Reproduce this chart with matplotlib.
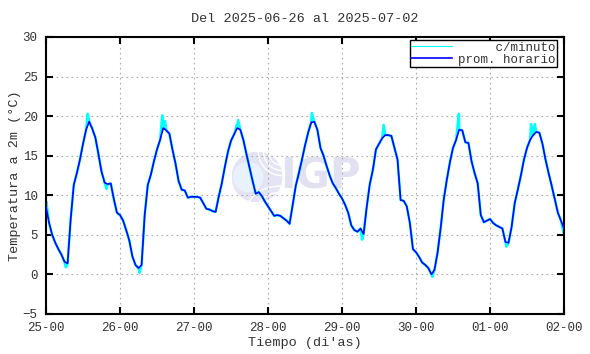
import numpy as np
import matplotlib.pyplot as plt
from matplotlib.patches import Circle, Arc

plt.rcParams['font.family'] = ['Liberation Mono', 'DejaVu Sans Mono']

TITLE = "Del 2025-06-26 al 2025-07-02"
DAY_LABELS = ["25-00", "26-00", "27-00", "28-00", "29-00", "30-00", "01-00", "02-00"]

# promedio horario, 24 valores por dia (°C)
day25 = [8.5, 6.5, 5.0, 4.0, 3.2, 2.5, 1.6, 1.4, 7.0, 11.3, 12.8, 14.5,
         16.5, 18.3, 19.3, 18.4, 17.3, 15.2, 13.0, 11.6, 11.4, 11.5, 9.5, 7.8]
day26 = [7.5, 6.8, 5.6, 4.3, 2.3, 1.2, 0.8, 1.2, 7.5, 11.3, 12.6, 14.3,
         15.8, 17.0, 18.5, 18.2, 17.8, 15.8, 14.0, 11.8, 10.7, 10.6, 9.7, 9.8]
day27 = [9.8, 9.8, 9.7, 9.0, 8.3, 8.2, 8.0, 7.9, 9.8, 11.5, 13.6, 15.5,
         16.9, 17.7, 18.5, 18.3, 17.0, 15.2, 13.5, 11.8, 10.2, 10.4, 9.9, 9.2]
day28 = [8.6, 8.0, 7.4, 7.5, 7.4, 7.1, 6.8, 6.4, 8.8, 11.2, 12.8, 14.5,
         16.3, 17.9, 19.2, 19.3, 18.3, 16.0, 15.0, 13.7, 12.5, 11.5, 10.9, 10.2]
day29 = [9.6, 8.8, 7.8, 6.2, 5.6, 5.4, 5.8, 5.1, 8.5, 11.4, 13.2, 15.8,
         16.5, 17.2, 17.6, 17.6, 17.5, 16.0, 14.5, 9.4, 9.3, 8.6, 6.5, 3.2]
day30 = [2.8, 2.2, 1.5, 1.2, 0.8, 0.0, 0.6, 2.8, 5.9, 9.5, 12.0, 14.2,
         16.0, 17.0, 18.3, 18.2, 16.7, 16.6, 14.3, 12.8, 11.5, 7.5, 6.6, 6.8]
day01 = [7.0, 6.5, 6.2, 6.0, 5.8, 4.1, 4.0, 6.0, 9.0, 10.7, 12.5, 14.5,
         16.0, 17.0, 17.6, 18.0, 17.9, 16.5, 14.5, 12.8, 11.2, 9.5, 7.8, 6.8]
last_value = [5.8]

# picos de la serie por minuto (horas desde el inicio, °C)
spike_hours = [0.1, 6.4, 13.5, 19.6, 30.3, 37.7, 38.6, 61.9, 62.3, 86.2,
               102.5, 109.5, 125.3, 133.9, 149.3, 157.3, 158.5, 167.8]
spike_values = [9.2, 0.9, 20.3, 10.8, 0.2, 20.1, 19.4, 18.9, 19.5, 20.4,
                4.4, 18.9, -0.3, 20.3, 3.5, 19.0, 19.0, 5.3]

hourly = np.array(day25 + day26 + day27 + day28 + day29 + day30 + day01 + last_value)
hours = np.arange(len(hourly))

minute_hours = np.concatenate([hours, spike_hours])
minute_values = np.concatenate([hourly, spike_values])
order = np.argsort(minute_hours, kind="stable")
minute_hours = minute_hours[order]
minute_values = minute_values[order]

fig = plt.figure(figsize=(5.9, 3.54), dpi=100)

# marca de agua IGP (detras del grafico)
logo = fig.add_axes([0.3925, 0.428, 0.0864, 0.144])
logo.set_aspect("equal")
logo.set_xlim(-1, 1)
logo.set_ylim(-1, 1)
logo.axis("off")
logo.add_patch(Circle((0, 0), 1, facecolor="#e4e4f4", edgecolor="none"))
logo.add_patch(Circle((-0.35, 0), 0.6, facecolor="#e9f1fb", edgecolor="none"))
for r in [1.1, 1.5, 1.9]:
    logo.add_patch(Arc((1.0, 1.0), r, r, theta1=180, theta2=270,
                       color="white", lw=1.0))
for r in [1.2, 1.7]:
    logo.add_patch(Arc((1.0, -1.2), r * 1.6, r, theta1=90, theta2=180,
                       color="white", lw=1.0))
logo.set_zorder(0)

ax = fig.add_axes([0.078, 0.113, 0.878, 0.7825])
ax.set_zorder(1)
ax.patch.set_alpha(0)
ax.text(0.53, 0.496, "IGP", transform=ax.transAxes, ha="center", va="center",
        fontsize=30, fontweight="bold", color="#e1e1f2", family="DejaVu Sans", zorder=0.6)

ax.plot(minute_hours, minute_values, color="#00ffff", lw=1.8, label="     c/minuto",
        zorder=2)
ax.plot(hours, hourly, color="#0000ff", lw=1.2, label="prom. horario", zorder=3)

ax.set_xlim(0, 168)
ax.set_ylim(-5, 30)
ax.set_xticks(np.arange(0, 169, 24))
ax.set_xticklabels(DAY_LABELS)
ax.set_yticks(np.arange(-5, 31, 5))
ax.tick_params(direction="in", length=5, width=1.5, top=True, right=True,
               labelsize=9, colors="#333333", pad=6)
ax.tick_params(axis="both", color="black")
ax.grid(True, color="#aaaaaa", linestyle=(0, (1.5, 3)), lw=0.8)
for s in ax.spines.values():
    s.set_linewidth(1.5)

ax.set_xlabel("Tiempo (di'as)", fontsize=9.7, color="#333333", labelpad=2)
ax.set_ylabel("Temperatura a 2m (°C)", fontsize=9.7, color="#333333", labelpad=1)
ax.set_title(TITLE, fontsize=9.7, color="#333333", pad=11)

leg = ax.legend(loc="upper right", bbox_to_anchor=(0.9865, 0.988), fontsize=9,
                frameon=True, fancybox=False, edgecolor="black", framealpha=1,
                handlelength=3.3, borderpad=0.1, labelspacing=0.0,
                handletextpad=0.5, borderaxespad=0)
leg.get_frame().set_linewidth(1.0)
leg.get_lines()[0].set_linewidth(0.8)
for t in leg.get_texts():
    t.set_color("#333333")

fig.savefig("out.png", dpi=100)
